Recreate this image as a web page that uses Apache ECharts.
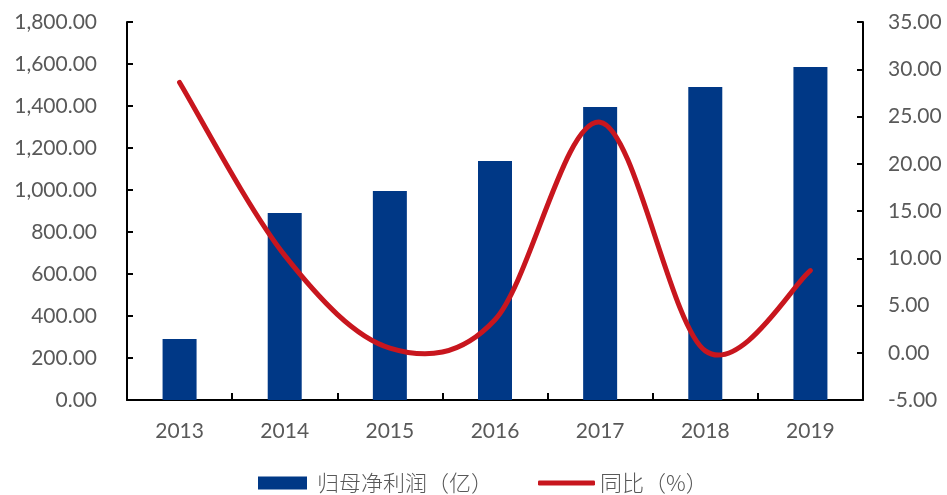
<!DOCTYPE html>
<html>
<head>
<meta charset="utf-8">
<script src="https://cdn.jsdelivr.net/npm/echarts@6/dist/echarts.min.js"></script>
<style>html,body{margin:0;padding:0;background:#fff;}#c{width:947px;height:495px;}</style>
</head>
<body>
<div id="c"></div>
<script>
var categories = ['2013', '2014', '2015', '2016', '2017', '2018', '2019'];
var profit = [290, 890, 995, 1138, 1395, 1490, 1586];
var yoy = [28.6, 10.3, 0.5, 3.5, 24.4, 0.2, 8.7];
var barName = '归母净利润（亿）';
var lineName = '同比（%）';

var chart = echarts.init(document.getElementById('c'));
var fontFam = 'Lato, "Noto Sans CJK SC", sans-serif';
var axisLine = {show: true, lineStyle: {color: '#000', width: 2}};
var legendText = {fontSize: 22, lineHeight: 24, color: '#595959', fontWeight: 300, fontFamily: '"Noto Sans CJK SC", sans-serif'};
var lineColor = '#C8161E';

// Smooth (Catmull-Rom style) curve through the data points, positioned by the chart's own axes
function renderCurve(params, api) {
  if (params.dataIndex !== 0) return null;
  var pts = yoy.map(function (v, i) { return api.coord([i, v]); });
  var d = 'M' + pts[0][0] + ' ' + pts[0][1];
  for (var i = 0; i < pts.length - 1; i++) {
    var p0 = pts[Math.max(i - 1, 0)], p1 = pts[i], p2 = pts[i + 1], p3 = pts[Math.min(i + 2, pts.length - 1)];
    var c1x = p1[0] + (p2[0] - p0[0]) / 6, c1y = p1[1] + (p2[1] - p0[1]) / 6;
    var c2x = p2[0] - (p3[0] - p1[0]) / 6, c2y = p2[1] - (p3[1] - p1[1]) / 6;
    d += ' C' + c1x + ' ' + c1y + ' ' + c2x + ' ' + c2y + ' ' + p2[0] + ' ' + p2[1];
  }
  return {
    type: 'path',
    shape: {pathData: d},
    style: {fill: null, stroke: lineColor, lineWidth: 5, lineCap: 'round', lineJoin: 'round'}
  };
}

chart.setOption({
  animation: false,
  textStyle: {fontFamily: fontFam},
  grid: {left: 127, right: 84, top: 22, bottom: 95, containLabel: false},
  legend: [{
    data: [{name: barName, icon: 'rect'}],
    left: 258, top: 471, padding: 0, itemWidth: 49, itemHeight: 13, itemGap: 0,
    textStyle: Object.assign({padding: [0, 0, 0, 5]}, legendText)
  }, {
    data: [{name: lineName, icon: 'roundRect'}],
    left: 538, top: 471, padding: 0, itemWidth: 57, itemHeight: 5, itemGap: 0,
    textStyle: legendText
  }],
  xAxis: {
    type: 'category', data: categories, boundaryGap: true,
    axisLine: axisLine,
    axisTick: {show: true, inside: true, length: 7, lineStyle: {color: '#000', width: 2}},
    axisLabel: {color: '#595959', fontSize: 21, margin: 21, fontFamily: fontFam},
    splitLine: {show: false}
  },
  yAxis: [{
    type: 'value', min: 0, max: 1800, interval: 200,
    axisLine: axisLine,
    axisTick: {show: true, inside: true, length: 6, lineStyle: {color: '#000', width: 2}},
    axisLabel: {color: '#595959', fontSize: 21, margin: 30, fontFamily: fontFam,
      formatter: function (v) { return v.toLocaleString('en-US', {minimumFractionDigits: 2, maximumFractionDigits: 2}); }},
    splitLine: {show: false}
  }, {
    type: 'value', min: -5, max: 35, interval: 5,
    axisLine: axisLine,
    axisTick: {show: true, inside: true, length: 6, lineStyle: {color: '#000', width: 2}},
    axisLabel: {color: '#595959', fontSize: 21, margin: 25, fontFamily: fontFam,
      formatter: function (v) { return v.toFixed(2); }},
    splitLine: {show: false}
  }],
  series: [{
    name: barName, type: 'bar', data: profit, barWidth: 34,
    itemStyle: {color: '#003886'}
  }, {
    name: lineName, type: 'custom', yAxisIndex: 1,
    data: yoy.map(function (v, i) { return [i, v]; }),
    encode: {x: 0, y: 1},
    renderItem: renderCurve,
    itemStyle: {color: lineColor},
    clip: false, z: 3
  }]
});
</script>
</body>
</html>
